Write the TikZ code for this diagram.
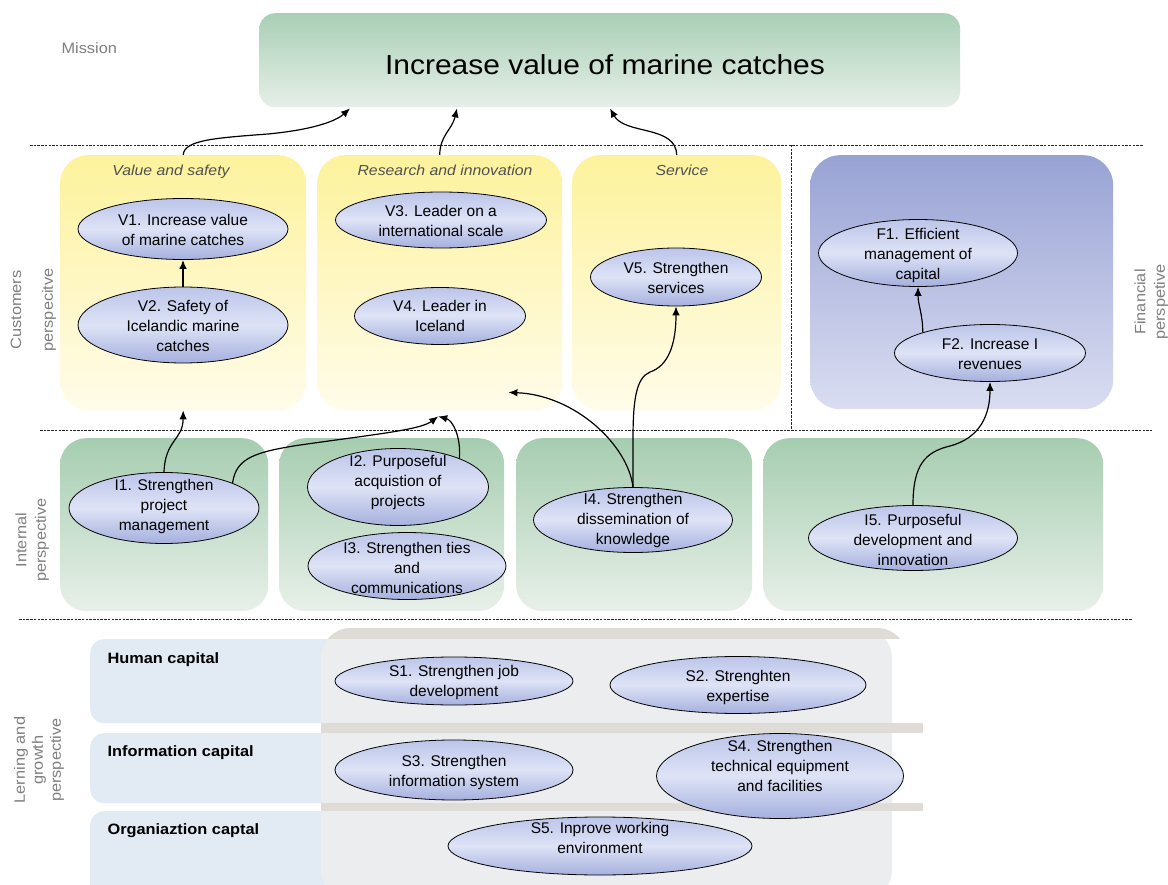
\documentclass[tikz,border=0pt]{standalone}
\usepackage{fontspec}
\setmainfont[FakeStretch=1.09]{Liberation Sans}
\newfontfamily\efont[FakeStretch=1.0]{Liberation Sans}
\usetikzlibrary{shapes.geometric,arrows.meta,calc}
\definecolor{yelT}{HTML}{FDF29C}
\definecolor{yelB}{HTML}{FFFCEA}
\definecolor{grnT}{HTML}{A6CDB0}
\definecolor{grnB}{HTML}{E8F0E9}
\definecolor{bluT}{HTML}{98A3D4}
\definecolor{bluB}{HTML}{DADDF1}
\definecolor{misT}{HTML}{A9CFB6}
\definecolor{misB}{HTML}{E6EFE8}
\definecolor{ellT}{HTML}{BCC5EA}
\definecolor{ellM}{HTML}{DEE3F6}
\definecolor{ellB}{HTML}{A5B0DE}
\definecolor{lbl}{HTML}{7F7F7F}
\definecolor{ttlc}{HTML}{505050}
\definecolor{rowc}{HTML}{E2EAF3}
\definecolor{grayA}{HTML}{ECEDEE}
\definecolor{grayB}{HTML}{DFDCD7}
\tikzset{
  anybox/.style={rectangle, inner sep=0pt, anchor=north west, draw=none},
  ybox/.style={anybox, rounded corners=28pt, top color=yelT, bottom color=yelB},
  gbox/.style={anybox, rounded corners=26pt, top color=grnT, bottom color=grnB},
  fbox/.style={anybox, rounded corners=30pt, top color=bluT, bottom color=bluB},
  mbox/.style={anybox, rounded corners=16pt, top color=misT, bottom color=misB},
  rowbox/.style={anybox, rounded corners=14pt, fill=rowc},
  ell/.style={ellipse, draw=black, line width=0.8pt, inner sep=0pt,
    top color=ellT, bottom color=ellB, middle color=ellM},
  etxt/.style={align=center, inner sep=0pt, font=\efont\fontsize{15.5}{20}\selectfont},
  ttl/.style={text=ttlc, anchor=base, font=\itshape\fontsize{14.5}{17}\selectfont},
  lab/.style={text=lbl, font=\fontsize{15}{18}\selectfont, rotate=90},
  rowlab/.style={anchor=west, font=\bfseries\fontsize{15}{17}\selectfont},
  sepline/.style={dash pattern=on 2.5pt off 1.2pt, line width=0.7pt, black!85},
  arr/.style={-{Latex[length=9pt,width=7.5pt]}, line width=1.2pt, black},
}
\newcommand{\goal}[6]{%
  \node[ell, minimum width=#3pt, minimum height=#4pt] (#1) at (#2) {};
  \node[etxt] (#1t) at ($(#1)+(0,#5)$) {#6};}
\begin{document}
\begin{tikzpicture}[x=1pt,y=-1pt]
\useasboundingbox (0,0) rectangle (1168,885);
\fill[white] (0,0) rectangle (1168,885);

% mission
\node[mbox, minimum width=701pt, minimum height=94pt] (mission) at (259,13) {};
\node[font=\fontsize{27.5}{32}\selectfont] (mtext) at (605,65) {Increase value of marine catches};
\node[text=lbl, font=\fontsize{15}{18}\selectfont, anchor=west] (mlab) at (58,48) {Mission};

% separators
\draw[sepline] (30,145) -- (1143,145);
\draw[sepline] (40,430) -- (1152,430);
\draw[sepline] (19,619) -- (1132,619);
\draw[sepline] (791,145) -- (791,430);

% customer boxes
\node[ybox, minimum width=246pt, minimum height=255pt] (vs) at (60,155) {};
\node[ybox, minimum width=245pt, minimum height=255pt] (rs) at (317,155) {};
\node[ybox, minimum width=209pt, minimum height=255pt] (ss) at (572,155) {};
\node[fbox, minimum width=303pt, minimum height=254pt] (fs) at (810,155) {};
\node[ttl] (t1) at (171,176) {Value and safety};
\node[ttl] (t2) at (445,176) {Research and innovation};
\node[ttl] (t3) at (682,176) {Service};

% internal boxes
\node[gbox, minimum width=208pt, minimum height=173pt] (ib1) at (60,438) {};
\node[gbox, minimum width=225pt, minimum height=173pt] (ib2) at (279,438) {};
\node[gbox, minimum width=236pt, minimum height=173pt] (ib3) at (516,438) {};
\node[gbox, minimum width=340pt, minimum height=173pt] (ib4) at (763,438) {};

% learning area
\node[rowbox, minimum width=270pt, minimum height=84pt] (hcap) at (90,639) {};
\node[rowbox, minimum width=270pt, minimum height=70pt] (icap) at (90,733) {};
\node[rowbox, minimum width=270pt, minimum height=90pt] (ocap) at (90,811) {};
\fill[grayA, rounded corners=30pt] (321,628) rectangle (892,900);
\begin{scope}
  \clip (300,600) rectangle (930,638);
  \fill[grayB, rounded corners=30pt] (321,628) rectangle (907,700);
\end{scope}
\fill[grayB] (321,723) rectangle (923,733);
\fill[grayB] (321,803) rectangle (923,811);
\node[rowlab] (hl) at (104,660) {Human capital};
\node[rowlab] (il) at (104,753) {Information capital};
\node[rowlab] (ol) at (104,831) {Organiaztion captal};

% side labels
\node[lab] (c1) at (16,310) {Customers};
\node[lab] (c2) at (49,310) {perspecitve};
\node[lab] (n1) at (21,540) {Internal};
\node[lab] (n2) at (42,540) {perspective};
\node[lab] (l1) at (21,760) {Lerning and};
\node[lab] (l2) at (39,760) {growth};
\node[lab] (l3) at (57,760) {perspective};
\node[lab] (f1l) at (1140,302) {Financial};
\node[lab] (f2l) at (1161,302) {perspetive};

% goals
\goal{V1}{183,229}{210}{61}{1}{V1. Increase value\\of marine catches}
\goal{V2}{183,325}{210}{76}{1}{V2. Safety of\\Icelandic marine\\catches}
\goal{V3}{441,220}{211}{56}{1}{V3. Leader on a\\international scale}
\goal{V4}{440,316}{171}{57}{0}{V4. Leader in\\Iceland}
\goal{V5}{676,277}{171}{58}{1}{V5. Strengthen\\services}
\goal{F1}{918,253}{199}{67}{2}{F1. Efficient\\management of\\capital}
\goal{F2}{990,353}{191}{57}{1}{F2. Increase I\\revenues}
\goal{I1}{164,508}{190}{71}{-2}{I1. Strengthen\\project\\management}
\goal{I2}{398,487}{181}{77}{-5}{I2. Purposeful\\acquistion of\\projects}
\goal{I3}{407,566}{198}{67}{2}{I3. Strengthen ties\\and\\communications}
\goal{I4}{633,520}{199}{65}{0}{I4. Strengthen\\dissemination of\\knowledge}
\goal{I5}{913,538}{209}{65}{2}{I5. Purposeful\\development and\\innovation}
\goal{S1}{454,681}{238}{48}{1}{S1. Strengthen job\\development}
\goal{S2}{738,685}{256}{57}{2}{S2. Strenghten\\expertise}
\goal{S3}{454,770}{238}{60}{2}{S3. Strengthen\\information system}
\goal{S4}{780,776}{247}{85}{-10}{S4. Strengthen\\technical equipment\\and facilities}
\goal{S5}{600,846}{304}{58}{-8}{S5. Inprove working\\environment}

% connector end points
\coordinate (m1) at ($(mission.south west)+(91,1)$);
\coordinate (m2) at ($(mission.south west)+(198,1)$);
\coordinate (m3) at ($(mission.south west)+(351,1)$);
\coordinate (rj) at ($(rs.south)+(-1.5,6)$);
\coordinate (rp) at ($(rs.south east)+(-54,-18)$);

% connectors
\draw[arr] (vs.north) .. controls (184,140) and (215,138) .. (268,134)
   .. controls (310,130) and (335,122) .. (m1);
\draw[arr] (rs.north) .. controls (440,135) and (452,130) .. (m2);
\draw[arr] (ss.north) .. controls (676,125) and (625,135) .. (m3);
\draw[arr] (V2.north) -- (V1.south);
\draw[arr] (I1.north) .. controls (165,440) and (183,440) .. (vs.south);
\draw[arr] (I1.20) .. controls (236,458) and (255,452) .. (300,445)
   .. controls (370,435) and (420,430) .. (rj);
\draw[arr] (I2.25) .. controls (461,435) and (452,420) .. (rj);
\draw[arr] (I4.north) .. controls (628,445) and (575,395) .. (rp);
\draw[arr] (I4.north) -- (633,440) .. controls (633,400) and (636,378) .. (650,372)
   .. controls (668,366) and (676,345) .. (V5.south);
\draw[arr] (I5.north) .. controls (913,465) and (925,452) .. (950,446)
   .. controls (980,438) and (990,415) .. (F2.south);
\draw[arr] (F2.163) .. controls (923,315) and (918,305) .. (F1.south);
\end{tikzpicture}
\end{document}
